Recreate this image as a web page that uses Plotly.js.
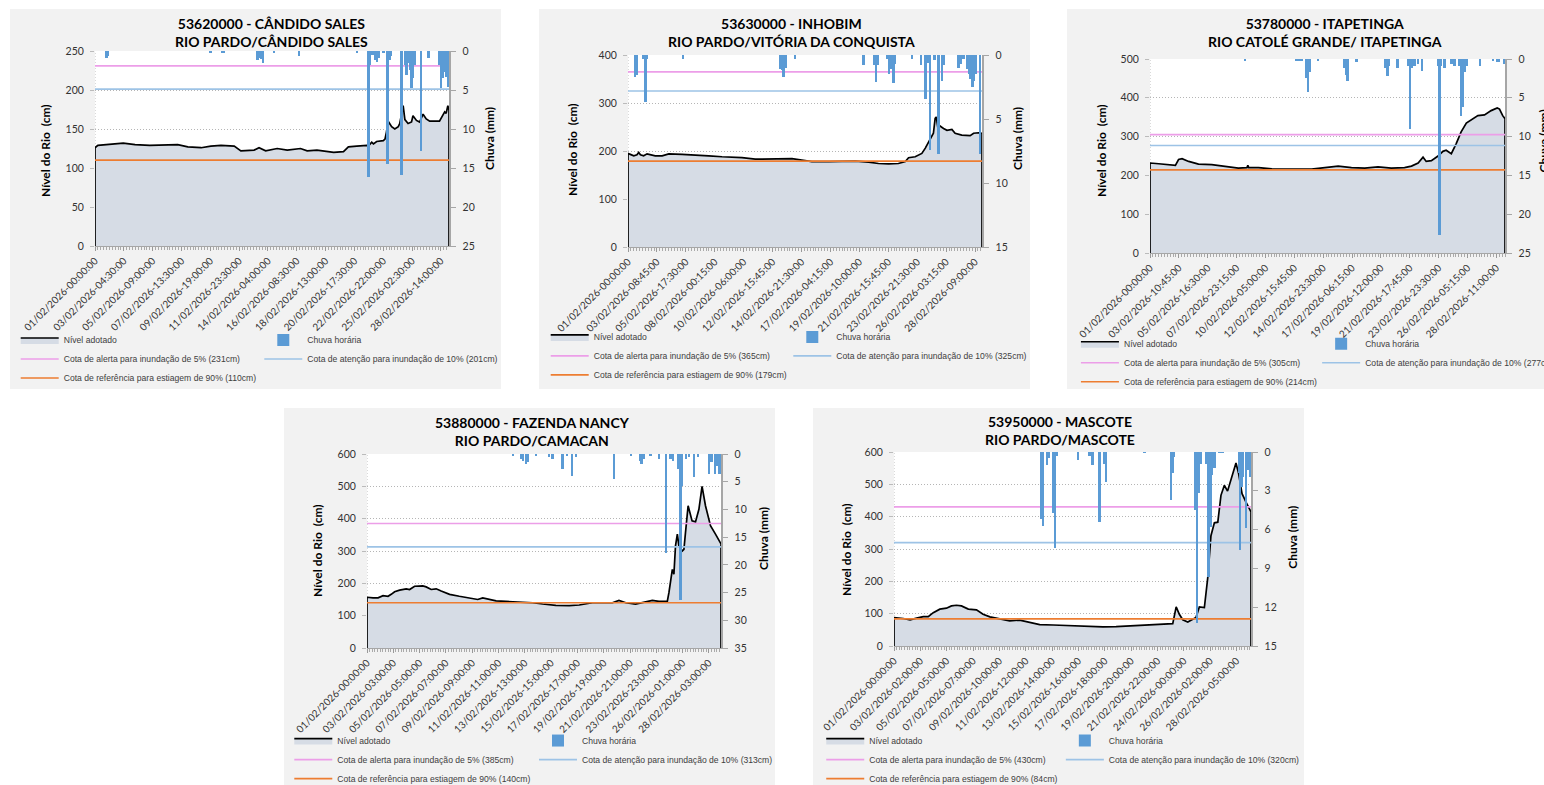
<!DOCTYPE html>
<html><head><meta charset="utf-8">
<script src="https://cdn.plot.ly/plotly-3.0.1.min.js"></script>
<style>
html,body{margin:0;padding:0;background:#ffffff;width:1544px;height:785px;overflow:hidden;}
.panel{position:absolute;width:491px;height:380px;outline:1.5px solid #a9a9a9;outline-offset:-1.5px;}
</style></head><body>
<div id="p0" class="panel" style="left:10px;top:9px"></div>
<div id="p1" class="panel" style="left:539px;top:9px"></div>
<div id="p2" class="panel" style="left:1067px;top:9px"></div>
<div id="p3" class="panel" style="left:284px;top:408px"></div>
<div id="p4" class="panel" style="left:813px;top:408px"></div>
<script>
// ---------------- DATA ----------------
const stationNames = ['53620000 - CÂNDIDO SALES','53630000 - INHOBIM','53780000 - ITAPETINGA','53880000 - FAZENDA NANCY','53950000 - MASCOTE'];
const placeNames = ['RIO PARDO/CÂNDIDO SALES','RIO PARDO/VITÓRIA DA CONQUISTA','RIO CATOLÉ GRANDE/ ITAPETINGA','RIO PARDO/CAMACAN','RIO PARDO/MASCOTE'];

const alertCm = [231, 365, 305, 385, 430];
const attentionCm = [201, 325, 277, 313, 320];
const referenceCm = [110, 179, 214, 140, 84];

const levelAxisMax = [250, 400, 500, 600, 600];
const levelAxisStep = [50, 100, 100, 100, 100];
const rainAxisMax = [25, 15, 25, 35, 15];
const rainAxisStep = [5, 5, 5, 5, 3];

const ticks1 = ['01/02/2026-00:00:00','03/02/2026-04:30:00','05/02/2026-09:00:00','07/02/2026-13:30:00','09/02/2026-19:00:00','11/02/2026-23:30:00','14/02/2026-04:00:00','16/02/2026-08:30:00','18/02/2026-13:00:00','20/02/2026-17:30:00','22/02/2026-22:00:00','25/02/2026-02:30:00','28/02/2026-14:00:00'];
const ticks2 = ['01/02/2026-00:00:00','03/02/2026-08:45:00','05/02/2026-17:30:00','08/02/2026-00:15:00','10/02/2026-06:00:00','12/02/2026-15:45:00','14/02/2026-21:30:00','17/02/2026-04:15:00','19/02/2026-10:00:00','21/02/2026-15:45:00','23/02/2026-21:30:00','26/02/2026-03:15:00','28/02/2026-09:00:00'];
const ticks3 = ['01/02/2026-00:00:00','03/02/2026-10:45:00','05/02/2026-16:30:00','07/02/2026-23:15:00','10/02/2026-05:00:00','12/02/2026-15:45:00','14/02/2026-23:30:00','17/02/2026-06:15:00','19/02/2026-12:00:00','21/02/2026-17:45:00','23/02/2026-23:30:00','26/02/2026-05:15:00','28/02/2026-11:00:00'];
const ticks4 = ['01/02/2026-00:00:00','03/02/2026-03:00:00','05/02/2026-05:00:00','07/02/2026-07:00:00','09/02/2026-09:00:00','11/02/2026-11:00:00','13/02/2026-13:00:00','15/02/2026-15:00:00','17/02/2026-17:00:00','19/02/2026-19:00:00','21/02/2026-21:00:00','23/02/2026-23:00:00','26/02/2026-01:00:00','28/02/2026-03:00:00'];
const ticks5 = ['01/02/2026-00:00:00','03/02/2026-02:00:00','05/02/2026-05:00:00','07/02/2026-07:00:00','09/02/2026-10:00:00','11/02/2026-12:00:00','13/02/2026-14:00:00','15/02/2026-16:00:00','17/02/2026-18:00:00','19/02/2026-20:00:00','21/02/2026-22:00:00','24/02/2026-00:00:00','26/02/2026-02:00:00','28/02/2026-05:00:00'];

// positions along the category axis, in tick-label intervals
const level1T = [0,0.10,0.46,0.98,1.39,1.90,2.87,3.22,3.68,4.02,4.37,4.83,5.06,5.52,5.69,5.92,6.32,6.67,7.13,7.36,7.70,8.05,8.28,8.62,8.79,9.08,9.43,9.48,9.60,9.66,9.77,10.00,10.06,10.11,10.17,10.29,10.40,10.52,10.57,10.69,10.75,10.86,10.98,11.03,11.15,11.26,11.38,11.49,11.61,11.95,12.07,12.13,12.18,12.24,12.28];
const level1Cm = [126,129,130,132,130,129,130,127,126,128,129,128,122,123,126,122,125,123,125,122,123,121,120,121,127,128,129,128,133,131,134,135,137,146,160,153,150,153,157,180,162,157,159,167,161,159,169,163,160,160,167,172,170,180,174];
const rain1T = [0.40,0.46,4.00,4.40,4.48,5.63,5.69,5.77,5.83,6.20,7.07,9.08,9.49,9.54,9.63,9.71,9.79,9.86,10.00,10.15,10.21,10.26,10.63,10.75,10.80,10.86,10.92,10.98,11.03,11.09,11.30,11.57,11.95,12.00,12.06,12.13,12.18,12.24];
const rain1Mm = [0.9,0.7,0.3,0.3,0.3,1.2,0.9,1.0,1.5,0.2,0.6,0.3,16.1,1.8,0.5,1.2,1.4,0.9,0.3,14.5,1.2,0.7,15.9,1.8,3.1,1.6,2.4,4.8,3.5,1.8,12.8,0.9,1.8,4.8,3.5,2.7,3.3,4.6];

const level2T = [0,0.08,0.20,0.31,0.37,0.43,0.54,0.66,0.77,0.94,1.18,1.41,1.87,2.33,2.79,3.25,3.94,4.40,4.86,5.32,5.67,6.01,6.36,6.94,7.40,7.86,8.32,8.66,9.01,9.35,9.59,9.70,9.93,10.16,10.28,10.39,10.51,10.56,10.62,10.66,10.71,10.79,10.91,11.03,11.20,11.31,11.54,11.72,11.83,11.95,12.12,12.24];
const level2Cm = [195,193,190,192,197,192,190,194,192,190,190,194,193,192,190,188,186,183,183,183,184,181,178,178,179,179,177,174,173,174,178,186,188,195,206,219,233,237,268,271,250,252,247,243,245,237,233,232,232,237,238,237];
const rain2T = [0.25,0.30,0.54,0.60,0.66,1.90,5.27,5.32,5.38,5.44,5.78,8.15,8.51,8.57,8.63,8.95,9.03,9.10,9.18,9.24,9.82,10.13,10.28,10.36,10.45,10.59,10.74,10.85,10.93,11.43,11.49,11.60,11.74,11.80,11.85,11.91,11.97,12.03,12.18];
const rain2Mm = [1.7,1.6,0.3,3.7,0.3,0.3,1.1,1.2,1.7,1.0,0.3,0.8,0.8,2.1,0.8,0.3,1.5,1.1,2.2,0.7,0.3,0.8,3.4,0.6,7.4,0.4,7.7,2.0,0.8,1.0,0.7,0.3,1.1,1.5,1.9,2.5,2.0,1.5,7.7];

const level3T = [0,0.30,0.53,0.88,0.99,1.11,1.34,1.68,2.14,2.60,3.06,3.36,3.39,3.42,3.76,4.22,4.68,5.14,5.60,6.06,6.52,6.98,7.44,7.90,8.36,8.82,9.06,9.29,9.46,9.57,9.75,9.98,10.15,10.26,10.44,10.61,10.78,10.96,11.19,11.36,11.59,11.82,12.03,12.11,12.22,12.30];
const level3Cm = [232,230,229,226,241,243,236,229,228,223,219,220,226,220,220,217,217,216,216,220,224,220,219,222,219,220,224,232,247,236,238,250,262,265,256,282,312,335,346,354,356,367,374,371,354,346];
const rain3T = [3.29,5.08,5.16,5.25,5.40,5.48,5.54,5.83,6.72,6.79,6.85,7.15,8.16,8.23,8.28,8.57,8.94,9.00,9.06,9.17,9.29,9.42,9.98,10.03,10.09,10.21,10.44,10.55,10.73,10.78,10.84,10.90,10.96,11.44,11.88,12.03,12.09,12.26];
const rain3Mm = [0.3,0.3,0.3,0.3,2.4,4.2,1.7,0.3,1.1,2.1,2.8,0.4,1.1,2.2,0.9,1.1,0.9,9.0,1.1,0.9,0.6,1.6,0.9,22.7,0.9,1.1,0.6,0.9,0.9,7.3,6.2,1.7,0.9,0.9,0.2,0.4,0.4,0.6];

const level4T = [0,0.23,0.42,0.61,0.80,0.92,1.05,1.24,1.49,1.62,1.81,2.12,2.25,2.44,2.63,2.82,3.14,3.51,3.89,4.21,4.40,4.65,4.91,5.28,5.79,6.30,6.68,7.18,7.69,8.07,8.57,9.08,9.33,9.58,9.84,10.21,10.59,10.85,11.10,11.42,11.48,11.61,11.67,11.73,11.80,11.86,11.99,12.05,12.11,12.21,12.36,12.49,12.62,12.74,12.87,13.06,13.25,13.44,13.46];
const level4Cm = [157,155,155,162,160,166,174,179,183,181,191,192,189,181,183,176,166,160,155,150,155,150,146,144,142,140,136,132,131,133,140,141,140,147,140,136,142,147,144,145,171,243,228,316,352,316,300,305,357,440,393,390,429,500,440,378,352,326,322];
const rain4T = [5.56,5.85,5.94,6.04,6.11,6.42,6.93,7.05,7.43,7.59,7.79,7.94,9.39,10.03,10.37,10.44,10.53,10.78,11.10,11.38,11.54,11.63,11.83,11.92,11.99,12.14,12.24,12.43,12.59,13.00,13.10,13.22,13.32,13.40];
const rain4Mm = [0.3,0.9,1.2,1.8,1.5,0.3,0.6,0.9,2.7,0.3,4.0,0.6,4.5,0.3,1.2,1.8,0.9,0.3,0.9,17.9,0.9,1.2,2.7,26.4,5.7,0.9,0.6,4.2,0.6,3.6,1.5,3.6,2.1,3.6];

const level5T = [0,0.35,0.61,0.86,1.11,1.30,1.49,1.74,1.99,2.18,2.37,2.56,2.82,3.13,3.38,3.64,4.02,4.39,4.77,5.15,5.53,6.04,6.54,7.05,7.42,7.93,8.43,8.94,9.44,9.95,10.33,10.58,10.71,10.83,10.96,11.15,11.34,11.46,11.59,11.78,11.91,12.03,12.16,12.29,12.41,12.54,12.66,12.79,12.98,13.08,13.21,13.36,13.48,13.55];
const level5Cm = [88,85,81,86,91,91,103,114,117,124,126,124,114,112,98,90,85,78,80,72,66,65,63,63,60,59,60,62,63,67,67,69,121,98,81,74,83,88,121,119,212,341,381,383,466,497,479,512,566,533,471,445,424,415];
const rain5T = [5.59,5.66,5.81,5.88,6.04,6.10,6.19,6.98,7.42,7.53,7.80,7.99,8.06,9.51,10.52,10.58,10.64,11.44,11.49,11.57,11.65,11.84,11.94,12.01,12.07,12.16,12.35,12.47,13.08,13.13,13.21,13.26,13.36,13.42,13.48,13.53];
const rain5Mm = [5.2,5.7,1.0,0.5,4.7,7.4,0.3,0.6,0.3,1.0,5.4,0.9,2.3,0.1,3.7,1.6,0.4,4.5,13.2,3.2,0.9,0.9,9.7,5.8,1.8,1.2,0.1,0.1,1.6,7.6,2.7,1.9,5.9,1.4,0.9,1.9];

const tickLabels = [ticks1, ticks2, ticks3, ticks4, ticks5];
const levelT = [level1T, level2T, level3T, level4T, level5T];
const levelCm = [level1Cm, level2Cm, level3Cm, level4Cm, level5Cm];
const rainT = [rain1T, rain2T, rain3T, rain4T, rain5T];
const rainMm = [rain1Mm, rain2Mm, rain3Mm, rain4Mm, rain5Mm];

// ---------------- LAYOUT GEOMETRY (panel-relative px) ----------------
const GEOM = [
  {l:85, r:52,   t:42,   b:143,   xr:[0,12.28], title:[261.5,23.5], yt:[35,142],  y2t:[479,130],   leg1:[5.7,331],  leg2:[249.3,331]},
  {l:89, r:48,   t:45.7, b:141.5, xr:[0,12.24], title:[252,23.2],   yt:[34,140],  y2t:[479,130],   leg1:[6.7,328.7], leg2:[249.3,328.7]},
  {l:83, r:53.3, t:49.7, b:135.7, xr:[0,12.30], title:[258,23.2],   yt:[34,141],  y2t:[476,132],   leg1:[9,335.3],   leg2:[250,335.3]},
  {l:83, r:54,   t:46.3, b:140.3, xr:[0,13.46], title:[248,23.7],   yt:[33,143],  y2t:[480,131],   leg1:[5.3,332],   leg2:[250,332]},
  {l:81, r:53.3, t:44.3, b:142.3, xr:[0,13.55], title:[247,23.2],   yt:[33,141],  y2t:[479,129.5], leg1:[8.3,332],   leg2:[247.7,332]}
];

const TXT = '#333333';

function buildPanel(i) {
  const g = GEOM[i];
  const W = 491, H = 380;
  const w = W - g.l - g.r, h = H - g.t - g.b;
  const px = v => (v - g.l) / w;
  const py = v => 1 - (v - g.t) / h;
  const T = levelT[i], L = levelCm[i];

  const traces = [
    {type:'scatter', mode:'lines', name:'Nível adotado', legend:'legend',
     x:[T[0]].concat(T, [T[T.length-1]]), y:[0].concat(L, [0]),
     fill:'tozeroy', fillcolor:'#d6dce5', line:{color:'#000000', width:1.7}, hoverinfo:'skip'},
    {type:'scatter', mode:'lines', name:'Cota de alerta para inundação de 5% (' + alertCm[i] + 'cm)', legend:'legend',
     x:g.xr, y:[alertCm[i], alertCm[i]], line:{color:'#ec9ee8', width:1.7}, hoverinfo:'skip'},
    {type:'scatter', mode:'lines', name:'Cota de referência para estiagem de 90% (' + referenceCm[i] + 'cm)', legend:'legend',
     x:g.xr, y:[referenceCm[i], referenceCm[i]], line:{color:'#ed7d31', width:1.7}, hoverinfo:'skip'},
    {type:'bar', name:'Chuva horária', legend:'legend2', x:rainT[i], y:rainMm[i], yaxis:'y2',
     width:0.085, marker:{color:'#5b9bd5', line:{width:0}}, hoverinfo:'skip'},
    {type:'scatter', mode:'lines', name:'Cota de atenção para inundação de 10% (' + attentionCm[i] + 'cm)', legend:'legend2',
     x:g.xr, y:[attentionCm[i], attentionCm[i]], line:{color:'#9dc3e6', width:1.7}, hoverinfo:'skip'}
  ];

  const legFont = {family:'"Liberation Sans", Arial, sans-serif', size:8.6, color:'#404040'};
  const layout = {
    width:W, height:H,
    margin:{l:g.l, r:g.r, t:g.t, b:g.b, pad:0, autoexpand:false},
    paper_bgcolor:'#f2f2f2', plot_bgcolor:'#ffffff',
    font:{family:'Lato, sans-serif', size:10.5, color:TXT},
    showlegend:true, barmode:'overlay', bargap:0,
    xaxis:{range:g.xr, tickmode:'array', tickvals:tickLabels[i].map((_, k) => k), ticktext:tickLabels[i],
           tickangle:-45, tickfont:{family:'Lato, sans-serif', size:10, color:TXT},
           ticks:'outside', ticklen:4, tickcolor:'#999999', showline:true, linecolor:'#a6a6a6', linewidth:1,
           showgrid:false, zeroline:false, fixedrange:true,
           minor:{ticks:'outside', tick0:0, dtick:0.1, ticklen:3, tickcolor:'#aaaaaa', showgrid:false}},
    yaxis:{range:[0, levelAxisMax[i]], tick0:0, dtick:levelAxisStep[i], tickfont:{size:10.5, color:TXT},
           showgrid:true, gridcolor:'#b5b5b5', griddash:'1px,2px', gridwidth:1, zeroline:false, showline:false,
           ticks:'outside', ticklen:4, tickcolor:'#bbbbbb', ticklabelstandoff:4, fixedrange:true},
    yaxis2:{overlaying:'y', side:'right', range:[rainAxisMax[i], 0], tick0:0, dtick:rainAxisStep[i],
            showgrid:false, zeroline:false, showline:true, linecolor:'#a6a6a6', linewidth:1.5,
            ticks:'outside', ticklen:5, tickcolor:'#a6a6a6', tickfont:{size:10.5, color:TXT}, ticklabelstandoff:5, fixedrange:true},
    legend:{x:px(g.leg1[0]), xanchor:'left', y:py(g.leg1[1] - 14.5), yanchor:'top', orientation:'v',
            bgcolor:'rgba(0,0,0,0)', borderwidth:0, font:legFont, itemwidth:38, tracegroupgap:0,
            itemclick:false, itemdoubleclick:false},
    legend2:{x:px(g.leg2[0]), xanchor:'left', y:py(g.leg2[1] - 14.5), yanchor:'top', orientation:'v',
            bgcolor:'rgba(0,0,0,0)', borderwidth:0, font:legFont, itemwidth:38, tracegroupgap:0,
            itemclick:false, itemdoubleclick:false},
    shapes:[{type:'line', xref:'x', yref:'paper', x0:g.xr[0], x1:g.xr[0], y0:0, y1:1,
             line:{color:'#b5b5b5', width:1, dash:'1px,2px'}, layer:'below'}],
    annotations:[
      {xref:'paper', yref:'paper', x:px(g.title[0]), y:py(g.title[1]), xanchor:'center', yanchor:'middle',
       showarrow:false, text:'<b>' + stationNames[i] + '</b><br><b>' + placeNames[i] + '</b>',
       font:{family:'Lato, sans-serif', size:14, color:'#000000'}},
      {xref:'paper', yref:'paper', x:px(g.yt[0]), y:py(g.yt[1]), xanchor:'center', yanchor:'middle', textangle:-90,
       showarrow:false, text:'<b>Nível do Rio&nbsp; (cm)</b>', font:{family:'Lato, sans-serif', size:12, color:'#000000'}},
      {xref:'paper', yref:'paper', x:px(g.y2t[0]), y:py(g.y2t[1]), xanchor:'center', yanchor:'middle', textangle:-90,
       showarrow:false, text:'<b>Chuva (mm)</b>', font:{family:'Lato, sans-serif', size:12, color:'#000000'}}
    ]
  };
  Plotly.newPlot('p' + i, traces, layout, {staticPlot:true, displayModeBar:false});
}

for (let i = 0; i < 5; i++) buildPanel(i);
</script>
</body></html>
